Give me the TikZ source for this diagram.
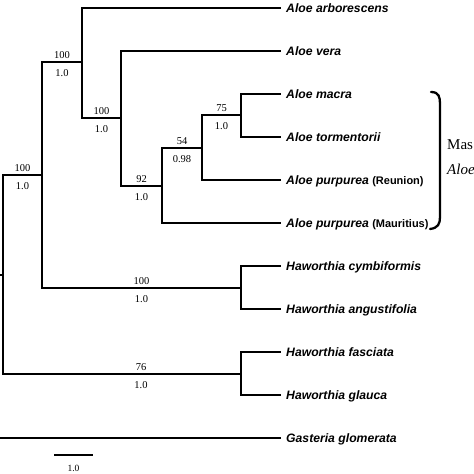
\documentclass[tikz,border=0pt]{standalone}
\usepackage{fontspec}
\setmainfont{Liberation Serif}
\setsansfont{Liberation Sans}
\tikzset{
  branch/.style={line width=2.7pt, black},
  taxon/.style={anchor=west, inner xsep=5pt, inner ysep=0pt, text height=8.8pt,
    text depth=0pt, font=\sffamily\bfseries\itshape\fontsize{12.2}{12.2}\selectfont},
  supp/.style={pos=.75, above=2pt, inner sep=0pt, font=\fontsize{10.5}{10.5}\selectfont},
  prob/.style={pos=.75, below=6pt, inner sep=0pt, font=\fontsize{10.5}{10.5}\selectfont},
  grouplbl/.style={anchor=west, inner sep=0pt, font=\fontsize{15}{15}\selectfont},
}
\newcommand{\locality}[1]{{\upshape\bfseries\fontsize{11}{11}\selectfont(#1)}}

\begin{document}
\begin{tikzpicture}[x=1pt, y=-1pt]
    \useasboundingbox (0,0) rectangle (474,474);

    % internal nodes
    \coordinate (root) at (-3,356);
    \coordinate (nA) at (3,275);
    \coordinate (nB) at (42,175);
    \coordinate (nC) at (82,62);
    \coordinate (nD) at (121,118);
    \coordinate (nE) at (162,186);
    \coordinate (nF) at (202,148);
    \coordinate (nG) at (241,115);
    \coordinate (nH1) at (241,288);
    \coordinate (nH2) at (241,374);

    % taxa
    \node[taxon] (arb) at (281,8) {Aloe arborescens};
    \node[taxon] (vera) at (281,51) {Aloe vera};
    \node[taxon] (macra) at (281,94) {Aloe macra};
    \node[taxon] (torm) at (281,137) {Aloe tormentorii};
    \node[taxon] (reun) at (281,180) {Aloe purpurea \locality{Reunion}};
    \node[taxon] (maur) at (281,223) {Aloe purpurea \locality{Mauritius}};
    \node[taxon] (cymb) at (281,266) {Haworthia cymbiformis};
    \node[taxon] (angu) at (281,309) {Haworthia angustifolia};
    \node[taxon] (fasc) at (281,352) {Haworthia fasciata};
    \node[taxon] (glau) at (281,395) {Haworthia glauca};
    \node[taxon] (gast) at (281,438) {Gasteria glomerata};

    \draw[branch] (root) |- (nA);
    \draw[branch] (root) |- (gast.west);
    \draw[branch] (nA) |- (nB) node[supp]{100} node[prob]{1.0};
    \draw[branch] (nA) |- (nH2) node[supp, pos=.79]{76} node[prob, pos=.79]{1.0};
    \draw[branch] (nB) |- (nC) node[supp]{100} node[prob]{1.0};
    \draw[branch] (nB) |- (nH1) node[supp]{100} node[prob]{1.0};
    \draw[branch] (nC) |- (arb.west);
    \draw[branch] (nC) |- (nD) node[supp]{100} node[prob]{1.0};
    \draw[branch] (nD) |- (vera.west);
    \draw[branch] (nD) |- (nE) node[supp]{92} node[prob]{1.0};
    \draw[branch] (nE) |- (nF) node[supp]{54} node[prob]{0.98};
    \draw[branch] (nE) |- (maur.west);
    \draw[branch] (nF) |- (nG) node[supp]{75} node[prob]{1.0};
    \draw[branch] (nF) |- (reun.west);
    \draw[branch] (nG) |- (macra.west);
    \draw[branch] (nG) |- (torm.west);
    \draw[branch] (nH1) |- (cymb.west);
    \draw[branch] (nH1) |- (angu.west);
    \draw[branch] (nH2) |- (fasc.west);
    \draw[branch] (nH2) |- (glau.west);

    % scale bar
    \coordinate (s0) at (54,455);
    \coordinate (s1) at (93,455);
    \draw[branch] (s0) -- (s1)
        node[midway, below=8.5pt, inner sep=0pt, font=\fontsize{9.5}{9.5}\selectfont] (scalelbl) {1.0};

    % Mascarene bracket
    \draw[line width=2.3pt, line cap=round] (431,92) .. controls (439,92) and (440,97) .. (440,104)
        -- (440,217) .. controls (440,224) and (438,228) .. (430,229);
    \node[grouplbl] (grp) at (447,145) {Mas};
    \node[grouplbl] (grpb) at (447,169) {\textit{Aloe}};
\end{tikzpicture}
\end{document}
